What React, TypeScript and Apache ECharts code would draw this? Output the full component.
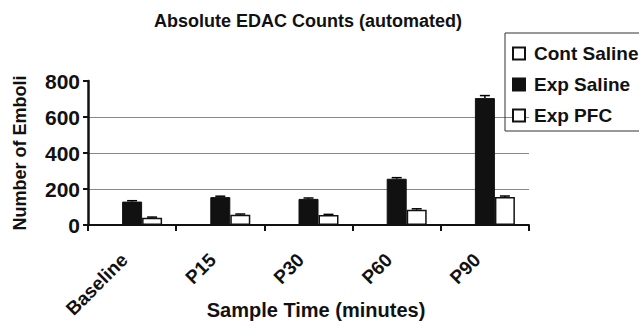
import React, { useEffect, useRef } from "react";
import * as echarts from "echarts";

const categories = ["Baseline", "P15", "P30", "P60", "P90"];
const contSaline = [3, 3, 3, 3, 3];
const expSaline = [130, 155, 145, 257, 705];
const expPFC = [40, 57, 55, 85, 155];
const expSalineErr = [5, 5, 5, 6, 14];
const expPFCErr = [4, 4, 4, 5, 6];
const yTicks = [0, 200, 400, 600, 800];

const FONT = "'Liberation Sans', Arial, Helvetica, sans-serif";

export default function App() {
  const ref = useRef<HTMLDivElement>(null);
  useEffect(() => {
    if (!ref.current) return;
    const chart = echarts.init(ref.current, undefined, { renderer: "svg" });
    const errSeries = (vals: number[], errs: number[], offset: number) => ({
      type: "custom",
      silent: true,
      z: 5,
      data: vals.map((v, i) => [i, v, errs[i]]),
      renderItem: (params: any, api: any) => {
        const i = api.value(0);
        const v = api.value(1);
        const e = api.value(2);
        const p = api.coord([i, v]);
        const hi = api.coord([i, v + e]);
        const x = p[0] + offset;
        return {
          type: "group",
          children: [
            { type: "line", shape: { x1: x, y1: p[1], x2: x, y2: hi[1] }, style: { stroke: "#000", lineWidth: 1.5 } },
            { type: "line", shape: { x1: x - 5, y1: hi[1], x2: x + 5, y2: hi[1] }, style: { stroke: "#000", lineWidth: 1.5 } },
          ],
        };
      },
    });
    chart.setOption({
      animation: false,
      backgroundColor: "#fff",
      textStyle: { fontFamily: FONT },
      title: {
        text: "Absolute EDAC Counts (automated)",
        left: 303,
        textAlign: "center",
        top: 7,
        textStyle: { fontFamily: FONT, fontSize: 18, fontWeight: "bold", color: "#111" },
      },
      legend: {
        orient: "vertical",
        left: 505,
        top: 33,
        itemWidth: 12,
        itemHeight: 12,
        itemGap: 12,
        padding: [11, 60, 6, 7],
        borderColor: "#333",
        borderWidth: 1,
        icon: "rect",
        textStyle: { fontFamily: FONT, fontSize: 19, fontWeight: "bold", color: "#111", padding: [0, 0, 0, 4] },
        data: ["Cont Saline", "Exp Saline", "Exp PFC"],
      },
      grid: { left: 88, right: 110, top: 81, bottom: 96, containLabel: false, outerBoundsMode: "none" },
      xAxis: {
        type: "category",
        data: categories,
        name: "Sample Time (minutes)",
        nameLocation: "middle",
        nameGap: 75,
        nameMoveOverlap: false,
        nameTextStyle: { fontFamily: FONT, fontSize: 20, fontWeight: "bold", color: "#111", padding: [0, 0, 0, 15] },
        axisLine: { lineStyle: { color: "#111", width: 2 } },
        axisTick: { show: true, interval: 0, length: 6, lineStyle: { color: "#111", width: 2 } },
        axisLabel: { rotate: 45, margin: 24, interval: 0, fontFamily: FONT, fontSize: 19, fontWeight: "bold", color: "#111", padding: [0, 11, 0, 0] },
      },
      yAxis: {
        type: "value",
        min: 0,
        max: 800,
        interval: 200,
        name: "Number of Emboli",
        nameLocation: "middle",
        nameGap: 59,
        nameMoveOverlap: false,
        nameTextStyle: { fontFamily: FONT, fontSize: 18, fontWeight: "bold", color: "#111" },
        axisLine: { show: true, lineStyle: { color: "#111", width: 2.5 } },
        axisTick: { show: true, length: 5, lineStyle: { color: "#111", width: 2 } },
        axisLabel: { margin: 8, fontFamily: FONT, fontSize: 21, fontWeight: "bold", color: "#111",
          formatter: (v: number) => (yTicks.includes(v) ? String(v) : "") },
        splitLine: { show: true, showMinLine: false, showMaxLine: false, lineStyle: { color: "#888", width: 1 } },
      },
      series: [
        {
          name: "Cont Saline",
          type: "bar",
          barWidth: 20,
          barGap: "0%",
          data: contSaline,
          itemStyle: { color: "#fff", borderColor: "#111", borderWidth: 1.2 },
        },
        {
          name: "Exp Saline",
          type: "bar",
          barWidth: 20,
          barGap: "0%",
          data: expSaline,
          itemStyle: { color: "#111", borderColor: "#111", borderWidth: 1 },
        },
        {
          name: "Exp PFC",
          type: "bar",
          barWidth: 20,
          barGap: "0%",
          data: expPFC,
          itemStyle: { color: "#fff", borderColor: "#111", borderWidth: 1.5 },
        },
        errSeries(expSaline, expSalineErr, 0),
        errSeries(expPFC, expPFCErr, 20),
      ],
    });
    return () => chart.dispose();
  }, []);
  return (
    <div
      ref={ref}
      style={{ position: "fixed", left: 0, top: 0, width: 639, height: 321, background: "#fff" }}
    />
  );
}
